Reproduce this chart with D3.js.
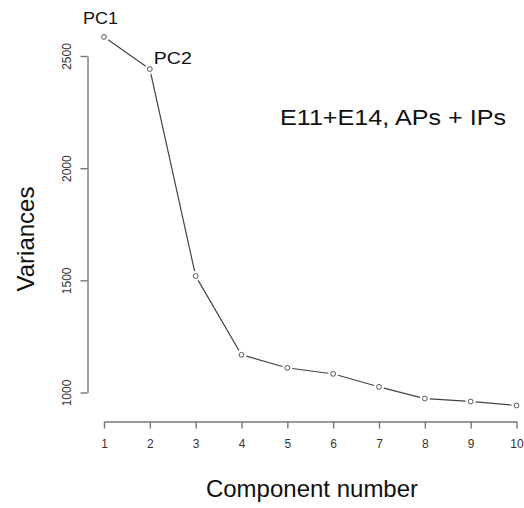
<!DOCTYPE html>
<html>
<head>
<meta charset="utf-8">
<script src="https://cdn.jsdelivr.net/npm/d3@7"></script>
<style>
  body { margin: 0; background: #fff; }
  text { font-family: "Liberation Sans", Arial, sans-serif; }
</style>
</head>
<body>
<div id="chart"></div>
<script>
// scree plot values
const components = [1, 2, 3, 4, 5, 6, 7, 8, 9, 10]
const variances = [2585, 2442, 1519, 1168, 1110, 1083, 1025, 973, 960, 942]
const yTicks = [1000, 1500, 2000, 2500]
const pointLabels = [{ i: 0, text: "PC1" }, { i: 1, text: "PC2" }]
const title = "E11+E14, APs + IPs"

const width = 524
const height = 508

const svg = d3.select("#chart").append("svg")
    .attr("width", width).attr("height", height)

const x = d3.scaleLinear().domain([1, 10]).range([104, 516.5])
const y = d3.scaleLinear().domain([1000, 2500]).range([392.5, 56])

// x axis (R style: detached from the plot)
const xAxis = svg.append("g")
    .attr("transform", "translate(0, 421.5)")
    .call(d3.axisBottom(x).tickValues(components).tickFormat(d3.format("d"))
        .tickSizeOuter(0).tickSizeInner(7).tickPadding(11))
xAxis.select(".domain").attr("stroke", "#777").attr("stroke-width", 1.4)
xAxis.selectAll(".tick line").attr("stroke", "#777").attr("stroke-width", 1.4)
xAxis.selectAll(".tick text").attr("fill", "#333").style("font-size", "12px")

// y axis
const yAxis = svg.append("g")
    .attr("transform", "translate(87.5, 0)")
    .call(d3.axisLeft(y).tickValues(yTicks).tickSizeOuter(0).tickSizeInner(7).tickFormat(d3.format("d")))
yAxis.select(".domain").attr("stroke", "#777").attr("stroke-width", 1.4)
yAxis.selectAll(".tick line").attr("stroke", "#777").attr("stroke-width", 1.4)
yAxis.selectAll(".tick text")
    .attr("fill", "#333").style("font-size", "12px")
    .attr("x", null).attr("dy", null)
    .attr("text-anchor", "middle")
    .attr("transform", "translate(-17, 0) rotate(-90)")

// line segments stop short of the points (type = "b")
const pts = components.map((c, i) => ({ px: x(c), py: y(variances[i]) }))
const gap = 5
const segs = d3.pairs(pts).map(([a, b]) => {
    const dx = b.px - a.px, dy = b.py - a.py
    const len = Math.hypot(dx, dy)
    const ux = dx / len, uy = dy / len
    return { x1: a.px + ux * gap, y1: a.py + uy * gap, x2: b.px - ux * gap, y2: b.py - uy * gap }
})
svg.append("g").selectAll("line")
    .data(segs)
    .join("line")
    .attr("x1", d => d.x1).attr("y1", d => d.y1)
    .attr("x2", d => d.x2).attr("y2", d => d.y2)
    .attr("stroke", "#444").attr("stroke-width", 1.2)

svg.append("g").selectAll("circle")
    .data(pts)
    .join("circle")
    .attr("cx", d => d.px).attr("cy", d => d.py)
    .attr("r", 2.4)
    .attr("fill", "none").attr("stroke", "#555").attr("stroke-width", 1)

// PC labels
svg.append("g").selectAll("text")
    .data(pointLabels)
    .join("text")
    .attr("x", d => d.i === 0 ? x(components[d.i]) - 21 : x(components[d.i]) + 4)
    .attr("y", d => d.i === 0 ? y(variances[d.i]) - 13 : y(variances[d.i]) - 5.5)
    .attr("textLength", d => d.i === 0 ? 35 : 38)
    .attr("lengthAdjust", "spacingAndGlyphs")
    .style("font-size", "16px")
    .attr("fill", "#111")
    .text(d => d.text)

// title inside plot
svg.append("text")
    .attr("x", 280).attr("y", 125)
    .attr("textLength", 226).attr("lengthAdjust", "spacingAndGlyphs")
    .style("font-size", "22px")
    .attr("fill", "#111")
    .text(title)

// axis titles
svg.append("text")
    .attr("x", 312).attr("y", 497)
    .attr("text-anchor", "middle")
    .style("font-size", "24px")
    .attr("fill", "#111")
    .text("Component number")

svg.append("text")
    .attr("transform", "translate(33.5, 239) rotate(-90)")
    .attr("text-anchor", "middle")
    .style("font-size", "24px")
    .attr("fill", "#111")
    .text("Variances")
</script>
</body>
</html>
